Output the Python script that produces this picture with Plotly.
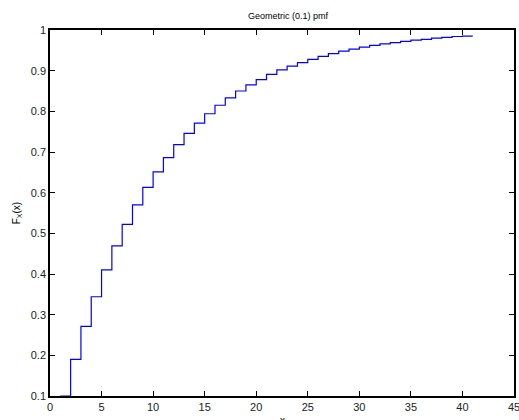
import plotly.graph_objects as go

x_vals = list(range(1, 42))
cdf_vals = [0.100, 0.190, 0.271, 0.344, 0.410, 0.469, 0.522, 0.570, 0.613, 0.651,
            0.686, 0.718, 0.746, 0.771, 0.794, 0.815, 0.833, 0.850, 0.865, 0.878,
            0.891, 0.902, 0.911, 0.920, 0.928, 0.935, 0.942, 0.948, 0.953, 0.958,
            0.962, 0.966, 0.969, 0.972, 0.975, 0.977, 0.980, 0.982, 0.984, 0.985,
            0.985]
x_ticks = [0, 5, 10, 15, 20, 25, 30, 35, 40, 45]
y_ticks = [0.1, 0.2, 0.3, 0.4, 0.5, 0.6, 0.7, 0.8, 0.9, 1]
y_tick_text = ["0.1", "0.2", "0.3", "0.4", "0.5", "0.6", "0.7", "0.8", "0.9", "1"]

fig = go.Figure()
fig.add_trace(go.Scatter(x=x_vals, y=cdf_vals, mode="lines",
                         line=dict(shape="hv", color="#0000ff", width=1.2),
                         showlegend=False, hoverinfo="skip"))

axis_common = dict(showgrid=False, zeroline=False, showline=True, linecolor="black",
                   linewidth=1.5, mirror="ticks", ticks="inside", ticklen=5,
                   tickcolor="black", tickwidth=1, automargin=False,
                   ticklabeloverflow="allow",
                   tickfont=dict(family="Liberation Sans, Arial", size=11, color="#222"))

fig.update_layout(
    width=519, height=420,
    margin=dict(l=50, r=5, t=30, b=24),
    paper_bgcolor="white", plot_bgcolor="white",
    title=dict(text="Geometric (0.1) pmf", x=0.555, xanchor="center", y=0.962, yanchor="middle",
               font=dict(family="Liberation Sans, Arial", size=9, color="black")),
    xaxis=dict(range=[0, 45], tickvals=x_ticks, ticktext=[str(v) for v in x_ticks],
               **axis_common),
    yaxis=dict(range=[0.1, 1], tickvals=y_ticks, ticktext=y_tick_text,
               title=dict(text="F<sub>X</sub>(x)", standoff=8,
                          font=dict(family="Liberation Sans, Arial", size=10, color="black")),
               **axis_common),
    annotations=[dict(text="x", xref="paper", yref="paper", x=0.5, y=0,
                      xanchor="center", yanchor="top", yshift=-17, showarrow=False,
                      font=dict(family="Liberation Sans, Arial", size=10, color="black"))],
)

fig.write_html("out.html")
